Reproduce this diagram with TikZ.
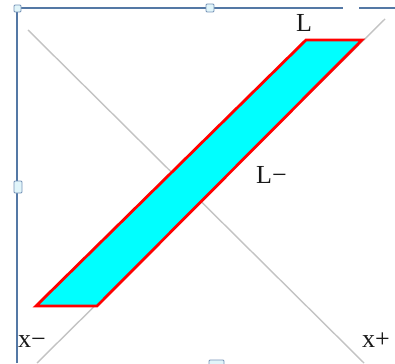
\documentclass[tikz,border=0pt]{standalone}
\usepackage{fontspec}
\setmainfont{Liberation Serif}
\definecolor{bandfill}{RGB}{0,255,255}
\definecolor{bandline}{RGB}{255,0,0}
\definecolor{guidegray}{RGB}{195,195,195}
\definecolor{framecol}{RGB}{84,120,165}
\definecolor{handlefill}{RGB}{225,245,250}
\begin{document}
\begin{tikzpicture}[x=1pt,y=-1pt,
  guide/.style={draw=guidegray, line width=1.4pt},
  band/.style={draw=bandline, fill=bandfill, line width=2.8pt, line join=miter},
  frame/.style={draw=framecol, line width=1.4pt},
  handle/.style={draw=framecol!80, fill=handlefill, line width=0.8pt, rounded corners=1pt},
  lbl/.style={anchor=base west, inner sep=0pt, font=\fontsize{26}{29}\selectfont, text=black!90}]
\useasboundingbox (0,0) rectangle (395,363);
% guide diagonals
\coordinate (d1a) at (28,30);
\coordinate (d1b) at (364,363);
\coordinate (d2a) at (37,363);
\coordinate (d2b) at (385,19);
\draw[guide] (d1a) -- (d1b);
\draw[guide] (d2a) -- (d2b);
% band
\draw[band] (36,306) -- (97,306) -- (362,40) -- (306,40) -- cycle;
% selection frame
\draw[frame] (17,363) -- (17,8) -- (343,8);
\draw[frame] (359,8) -- (395,8);
\draw[handle] (14,5) rectangle (21,12);
\draw[handle] (14,181) rectangle (22,193);
\draw[handle] (206,4) rectangle (214,12);
\draw[handle] (209,360) rectangle (224,366);
% labels
\node[lbl] (lp) at (296,32) {L};
\node[lbl] (lm) at (256,183) {L−};
\node[lbl] (xm) at (18,347) {x−};
\node[lbl] (xp) at (362,347) {x+};
\end{tikzpicture}
\end{document}
